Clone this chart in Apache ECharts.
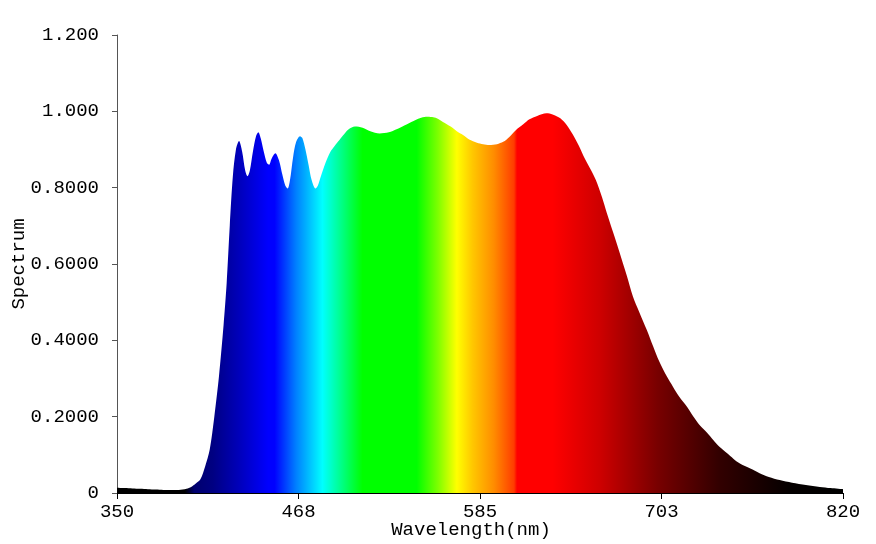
<!DOCTYPE html>
<html>
<head>
<meta charset="utf-8">
<script src="https://cdn.jsdelivr.net/npm/echarts@6/dist/echarts.min.js"></script>
<style>html,body{margin:0;padding:0;background:#fff;}#c{width:876px;height:544px;}</style>
</head>
<body>
<div id="c"></div>
<script>
const wavelengths = [350,355,360,365,370,375,380,385,390,395,398,401,404,407,410,413,416,419,421,423,425,427,429,431,433,434.5,436,438,440,441.5,443,445,447,448.5,450,452.5,455,457,459,460.5,462,464,466,468.5,470,472,474,476,478.5,480,482,485,488,491,494,497,500,504,509,514,520,526,531,536,542,546,550,554,557,561,566,570,574,578,583,587,591,596,600,604,608,613,617,622,628,632,637,641,645,649,653,657,660,664,667,671,675,680,684,688,693,697,701,706,710,714,719,723,727,732,736,740,745,749,753,760,766,772,779,787,796,805,812,820];
const spectrum = [0.014,0.013,0.012,0.011,0.010,0.009,0.008,0.008,0.008,0.011,0.016,0.025,0.036,0.069,0.113,0.200,0.305,0.44,0.55,0.70,0.83,0.90,0.922,0.895,0.845,0.83,0.845,0.895,0.935,0.945,0.93,0.895,0.865,0.86,0.875,0.89,0.87,0.835,0.805,0.798,0.82,0.88,0.92,0.935,0.93,0.90,0.86,0.82,0.798,0.805,0.83,0.865,0.893,0.91,0.925,0.94,0.953,0.96,0.957,0.948,0.942,0.945,0.953,0.963,0.975,0.982,0.986,0.985,0.982,0.972,0.96,0.948,0.938,0.926,0.918,0.914,0.912,0.914,0.92,0.933,0.95,0.966,0.979,0.988,0.995,0.992,0.982,0.965,0.94,0.91,0.875,0.845,0.82,0.775,0.735,0.685,0.635,0.57,0.515,0.475,0.427,0.385,0.345,0.305,0.278,0.252,0.226,0.201,0.179,0.158,0.139,0.121,0.104,0.090,0.078,0.064,0.052,0.042,0.034,0.027,0.021,0.016,0.013,0.010];
const xTickLabels = ['350','468','585','703','820'];
const yTickLabels = ['0','0.2000','0.4000','0.6000','0.8000','1.000','1.200'];
// spectral colour stops: wavelength -> colour
const colorWavelengths = [350,394,400,412,430,448,452,466,483,496,509,544,558,570,580,594,607,609,632,663,700,740,785,820];
const colorValues = ['#000000','#000000','#00006e','#000082','#0000be','#0000ff','#0000ff','#0080ff','#00ffff','#00ff80','#00ff00','#00ff00','#80ff00','#ffff00','#ffc800','#ff8c00','#ff3c00','#ff0000','#ff0000','#cd0000','#780000','#320000','#050000','#000000'];

const xMin = 350, xMax = 820;
const stops = colorWavelengths.map((w,i)=>({offset:(w-xMin)/(xMax-xMin), color:colorValues[i]}));
const font = 'Liberation Mono';
const chart = echarts.init(document.getElementById('c'), null, {renderer:'canvas'});
chart.setOption({
  animation:false,
  backgroundColor:'#fff',
  grid:{left:117,right:33,top:35,bottom:51,containLabel:false,outerBoundsMode:'none'},
  xAxis:{
    type:'value',min:xMin,max:xMax,interval:117.5,
    name:'Wavelength(nm)',nameLocation:'middle',nameGap:27,nameMoveOverlap:false,
    nameTextStyle:{fontFamily:font,fontSize:19,color:'#000',padding:[0,18,0,0]},
    axisLine:{lineStyle:{color:'#000',width:1}},
    axisTick:{length:6,lineStyle:{color:'#000'}},
    axisLabel:{fontFamily:font,fontSize:19,color:'#000',margin:9,
      formatter:(v)=>{const i=Math.round((v-xMin)/117.5);return xTickLabels[i]||'';}},
    splitLine:{show:false}
  },
  yAxis:{
    type:'value',min:0,max:1.2,interval:0.2,
    name:'Spectrum',nameLocation:'middle',nameGap:89,nameMoveOverlap:false,
    nameTextStyle:{fontFamily:font,fontSize:19,color:'#000'},
    axisLine:{show:true,lineStyle:{color:'#555',width:1}},
    axisTick:{show:true,length:5,lineStyle:{color:'#555'}},
    axisLabel:{fontFamily:font,fontSize:19,color:'#000',margin:18,
      formatter:(v)=>{const i=Math.round(v/0.2);return yTickLabels[i]||'';}},
    splitLine:{show:false}
  },
  series:[{
    type:'line',
    data:wavelengths.map((w,i)=>[w,spectrum[i]]),
    showSymbol:false,
    smooth:0.3,
    lineStyle:{width:0},
    areaStyle:{opacity:1,color:new echarts.graphic.LinearGradient(0,0,1,0,stops)}
  }]
});
</script>
</body>
</html>
